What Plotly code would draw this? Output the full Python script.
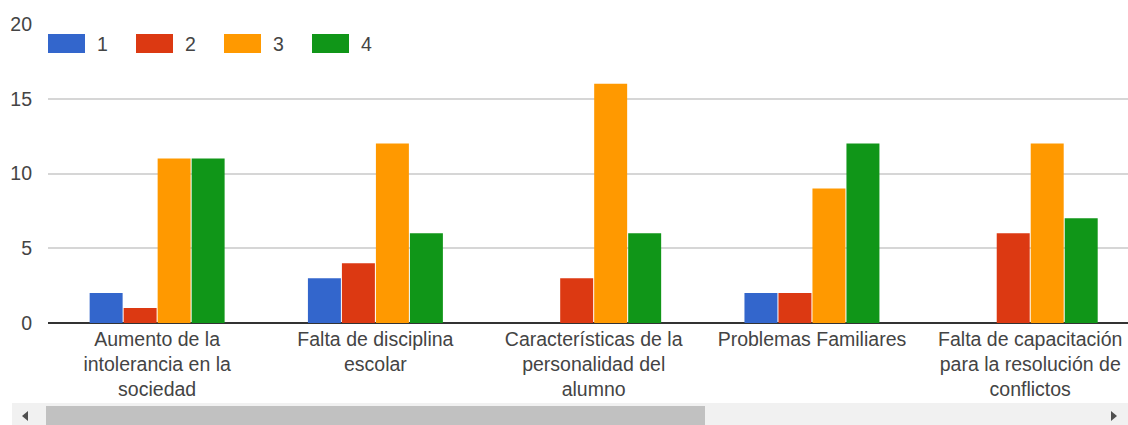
import plotly.graph_objects as go

# Survey results: how many respondents chose each rating (1-4) per cause
categories = [
    "Aumento de la<br>intolerancia en la<br>sociedad",
    "Falta de disciplina<br>escolar",
    "Características de la<br>personalidad del<br>alumno",
    "Problemas Familiares",
    "Falta de capacitación<br>para la resolución de<br>conflictos",
]
series_names = ["1", "2", "3", "4"]
values_1 = [2, 3, 0, 2, 0]
values_2 = [1, 4, 3, 2, 6]
values_3 = [11, 12, 16, 9, 12]
values_4 = [11, 6, 6, 12, 7]
y_ticks = [0, 5, 10, 15, 20]

colors = ["#3366cc", "#dc3912", "#ff9900", "#109618"]
FONT = "Liberation Sans, Arial, sans-serif"
TEXT = "#444444"
FS = 19.5

fig = go.Figure()
for name, vals, col in zip(series_names, [values_1, values_2, values_3, values_4], colors):
    fig.add_trace(go.Bar(
        x=categories, y=vals, name=name,
        marker=dict(color=col, line=dict(width=0)),
        showlegend=False,
    ))

W, H = 1128, 425
PLOT_L, PLOT_T, PLOT_B = 48, 24, 323


def px_x(x):
    return (x - PLOT_L) / (W - PLOT_L)


def px_y(y):
    return (PLOT_B - y) / (PLOT_B - PLOT_T)


shapes = []
annotations = []

# Legend row: wide colour swatches with labels
for i, (name, col) in enumerate(zip(series_names, colors)):
    x0 = 48 + 88 * i
    shapes.append(dict(type="rect", xref="paper", yref="paper",
                       x0=px_x(x0), x1=px_x(x0 + 37),
                       y0=px_y(53), y1=px_y(34),
                       fillcolor=col, line=dict(width=0), layer="above"))
    annotations.append(dict(xref="paper", yref="paper",
                            x=px_x(x0 + 47), y=px_y(44),
                            text=name, showarrow=False, xanchor="left", yanchor="middle",
                            font=dict(family=FONT, size=FS, color=TEXT)))

# Horizontal scrollbar under the chart
shapes.append(dict(type="rect", xref="paper", yref="paper",
                   x0=px_x(12), x1=px_x(1128), y0=px_y(425), y1=px_y(403),
                   fillcolor="#f1f1f1", line=dict(width=0), layer="above"))
shapes.append(dict(type="rect", xref="paper", yref="paper",
                   x0=px_x(46), x1=px_x(705), y0=px_y(425), y1=px_y(406),
                   fillcolor="#c1c1c1", line=dict(width=0), layer="above"))
shapes.append(dict(type="path", xref="paper", yref="paper",
                   path=f"M {px_x(22)} {px_y(416)} L {px_x(28)} {px_y(411)} L {px_x(28)} {px_y(421)} Z",
                   fillcolor="#505050", line=dict(width=0), layer="above"))
shapes.append(dict(type="path", xref="paper", yref="paper",
                   path=f"M {px_x(1117)} {px_y(416)} L {px_x(1111)} {px_y(411)} L {px_x(1111)} {px_y(421)} Z",
                   fillcolor="#505050", line=dict(width=0), layer="above"))

fig.update_layout(
    width=W, height=H,
    margin=dict(l=PLOT_L, r=0, t=PLOT_T, b=H - PLOT_B),
    paper_bgcolor="white", plot_bgcolor="white",
    barmode="group", bargap=0.377, bargroupgap=0.03,
    font=dict(family=FONT, size=FS, color=TEXT),
    shapes=shapes, annotations=annotations,
    showlegend=False,
)
fig.update_xaxes(
    type="category", range=[-0.5, 4.448],
    showgrid=False, showline=False, ticks="",
    tickfont=dict(family=FONT, size=FS, color=TEXT),
    tickangle=0, fixedrange=True, ticklabelstandoff=2,
)
fig.update_yaxes(
    range=[0, 20], tickvals=y_ticks, ticktext=[str(v) for v in y_ticks],
    showgrid=True, gridcolor="#d6d6d6", gridwidth=1.5,
    zeroline=True, zerolinecolor="#333333", zerolinewidth=1.5,
    showline=False, ticks="", ticklabelstandoff=15,
    tickfont=dict(family=FONT, size=FS, color=TEXT),
    fixedrange=True,
)

fig.write_html("out.html", config={"displayModeBar": False})
